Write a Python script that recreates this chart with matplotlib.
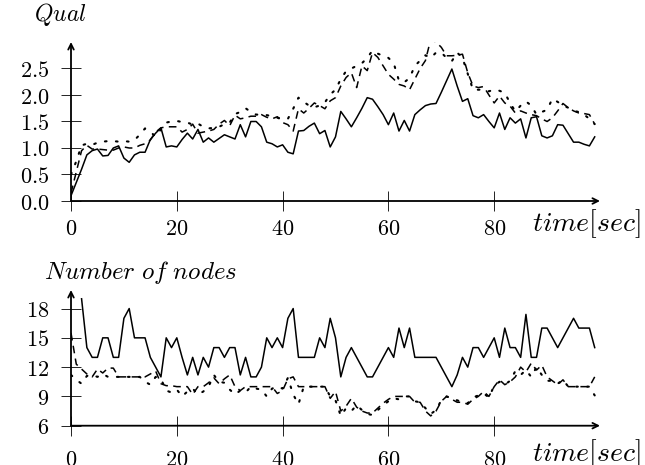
import matplotlib
matplotlib.use("Agg")
import matplotlib.pyplot as plt
from matplotlib.ticker import FuncFormatter

plt.rcParams["mathtext.fontset"] = "cm"
plt.rcParams["font.family"] = "DejaVu Serif"

# time axis (seconds)
time = list(range(100))

# Qual panel
qual_solid = [0.10, 0.35, 0.60, 0.87, 0.95, 0.98, 0.85, 0.86, 1.00, 1.04,
              0.81, 0.73, 0.87, 0.92, 0.92, 1.16, 1.28, 1.38, 1.02, 1.04,
              1.02, 1.16, 1.28, 1.17, 1.35, 1.11, 1.19, 1.11, 1.18, 1.25,
              1.21, 1.17, 1.44, 1.21, 1.50, 1.50, 1.40, 1.11, 1.08, 1.02,
              1.06, 0.92, 0.89, 1.32, 1.33, 1.41, 1.47, 1.27, 1.33, 1.02,
              1.21, 1.69, 1.55, 1.40, 1.57, 1.75, 1.95, 1.92, 1.78, 1.63,
              1.44, 1.66, 1.32, 1.52, 1.32, 1.63, 1.72, 1.80, 1.83, 1.84,
              2.05, 2.27, 2.49, 2.17, 1.88, 1.93, 1.61, 1.57, 1.63, 1.50,
              1.38, 1.66, 1.35, 1.57, 1.47, 1.55, 1.19, 1.57, 1.59, 1.23,
              1.19, 1.23, 1.44, 1.43, 1.27, 1.11, 1.11, 1.07, 1.04, 1.21]
qual_dashed = [0.15, 0.55, 0.95, 1.05, 0.98, 0.98, 0.97, 0.96, 0.96, 1.00,
               1.02, 1.00, 1.00, 1.05, 1.08, 1.15, 1.30, 1.38, 1.40, 1.40,
               1.40, 1.30, 1.35, 1.45, 1.28, 1.30, 1.32, 1.35, 1.45, 1.52,
               1.42, 1.62, 1.55, 1.57, 1.60, 1.60, 1.63, 1.58, 1.55, 1.59,
               1.48, 1.44, 1.32, 1.74, 1.66, 1.75, 1.85, 1.80, 1.74, 1.89,
               1.95, 2.17, 2.33, 2.42, 2.14, 2.55, 2.46, 2.80, 2.71, 2.55,
               2.39, 2.30, 2.20, 2.17, 2.10, 2.30, 2.50, 2.65, 3.05, 3.00,
               2.90, 2.74, 2.74, 2.75, 2.77, 2.42, 2.17, 2.14, 2.16, 2.00,
               1.85, 1.98, 1.85, 1.79, 1.66, 1.70, 1.66, 1.63, 1.61, 1.55,
               1.50, 1.57, 1.70, 1.84, 1.76, 1.70, 1.66, 1.65, 1.63, 1.45]
qual_dotted = [0.50, 0.75, 1.05, 1.08, 1.06, 1.10, 1.12, 1.13, 1.13, 1.12,
               1.13, 1.12, 1.15, 1.25, 1.37, 1.30, 1.22, 1.35, 1.48, 1.50,
               1.51, 1.49, 1.48, 1.44, 1.46, 1.40, 1.37, 1.38, 1.40, 1.45,
               1.48, 1.64, 1.68, 1.75, 1.68, 1.63, 1.63, 1.62, 1.60, 1.57,
               1.56, 1.55, 1.74, 1.95, 1.87, 1.80, 1.77, 1.80, 1.86, 2.01,
               2.10, 2.30, 2.45, 2.50, 2.55, 2.60, 2.70, 2.84, 2.78, 2.74,
               2.70, 2.60, 2.27, 2.24, 2.32, 2.55, 2.65, 2.75, 2.70, 2.80,
               2.80, 2.70, 2.64, 2.80, 2.70, 2.40, 2.10, 2.10, 2.10, 2.07,
               2.10, 2.08, 2.04, 1.85, 1.69, 1.80, 1.88, 1.80, 1.63, 1.68,
               1.72, 1.93, 1.87, 1.80, 1.76, 1.70, 1.68, 1.63, 1.55, 1.45]

# Number of nodes panel
nan = float("nan")
nodes_solid = [nan, nan, 19, 14, 13, 13, 15, 15, 13, 13,
               17, 18, 15, 15, 15, 13, 12, 11, 15, 14,
               15, 13, 11.2, 13, 11.2, 13, 12, 14, 14, 13,
               14, 14, 11.2, 13, 11, 11, 12, 15, 14, 15,
               14, 17, 18, 13, 13, 13, 13, 15, 14, 17,
               15, 11, 13, 14, 13, 12, 11, 11, 12, 13,
               14, 13, 16, 14, 16, 13, 13, 13, 13, 13,
               12, 11, 10, 11.2, 13, 12, 14, 14, 13, 14,
               15, 13, 16, 14, 14, 13, 17.4, 13, 13, 16,
               16, 15, 14, 15, 16, 17, 16, 16, 16, 14]
nodes_dashed = [15.5, 12.3, 11.8, 11.3, 11.0, 11.8, 11.4, 11.9, 11.9, 11.0,
                11.0, 11.0, 11.0, 11.0, 11.0, 11.3, 11.6, 10.3, 10.1, 10.1,
                10.0, 10.0, 10.0, 9.2, 10.0, 10.0, 10.4, 10.9, 10.3, 10.8,
                11.2, 10.0, 9.6, 10.0, 10.0, 10.0, 10.0, 10.0, 10.0, 9.3,
                9.6, 10.8, 11.0, 10.0, 10.0, 10.0, 10.0, 10.0, 10.0, 8.8,
                9.5, 7.5, 8.0, 8.8, 7.9, 7.5, 7.3, 7.3, 7.8, 8.3,
                8.7, 9.0, 9.0, 9.0, 9.0, 8.4, 8.4, 7.5, 7.0, 7.5,
                8.5, 9.0, 8.7, 8.4, 8.4, 8.2, 8.7, 9.0, 9.5, 9.0,
                10.0, 10.7, 10.2, 10.5, 11.0, 12.0, 11.5, 12.4, 11.7, 12.2,
                11.0, 10.6, 10.2, 10.7, 10.0, 10.0, 10.0, 10.0, 10.0, 11.0]
nodes_dotted = [11.2, 10.7, 10.3, 11.1, 11.2, 11.0, 11.3, 11.0, 11.0, 11.0,
                11.0, 11.0, 11.0, 11.0, 10.5, 10.2, 11.0, 10.8, 9.6, 9.4,
                9.7, 9.0, 9.5, 9.8, 9.2, 9.5, 10.0, 11.2, 10.5, 10.4,
                9.7, 9.2, 9.6, 9.4, 10.0, 9.8, 9.7, 9.0, 9.8, 10.0,
                9.8, 10.9, 9.2, 8.2, 10.0, 10.0, 10.0, 10.0, 10.0, 9.0,
                8.6, 7.0, 7.8, 7.5, 8.1, 7.6, 7.2, 7.1, 7.6, 8.1,
                8.5, 8.8, 8.7, 9.0, 9.0, 8.5, 8.4, 7.8, 7.2, 7.6,
                8.6, 9.0, 8.8, 8.6, 8.4, 8.3, 8.9, 9.1, 9.3, 8.9,
                10.1, 10.5, 10.2, 10.6, 11.6, 11.2, 11.7, 11.0, 12.0, 11.2,
                10.6, 10.6, 10.3, 10.7, 10.0, 10.0, 10.0, 10.0, 10.0, 9.1]

x_ticks = [0, 20, 40, 60, 80]
qual_ticks = [0.0, 0.5, 1.0, 1.5, 2.0, 2.5]
nodes_ticks = [6, 9, 12, 15, 18]

W, H = 645, 465
fig = plt.figure(figsize=(W / 100, H / 100), dpi=100)


def px_axes(left, right, top, bottom):
    return fig.add_axes([left / W, 1 - bottom / H, (right - left) / W, (bottom - top) / H])


def style_axes(ax, ylim, yticks, yfmt, xpad):
    ax.set_xlim(0, 100)
    ax.set_ylim(*ylim)
    for s in ax.spines.values():
        s.set_visible(False)
    ax.annotate("", xy=(1, 0), xytext=(0, 0), xycoords="axes fraction",
                arrowprops=dict(arrowstyle="->", lw=1.3, color="black",
                                shrinkA=0, shrinkB=0))
    ax.annotate("", xy=(0, 1), xytext=(0, 0), xycoords="axes fraction",
                arrowprops=dict(arrowstyle="->", lw=1.3, color="black",
                                shrinkA=0, shrinkB=0))
    ax.set_xticks(x_ticks)
    ax.set_yticks(yticks)
    ax.xaxis.set_major_formatter(FuncFormatter(lambda v, p: f"${v:.0f}$"))
    ax.yaxis.set_major_formatter(FuncFormatter(lambda v, p: yfmt.format(v)))
    ax.tick_params(axis="x", direction="inout", length=15, width=0.6,
                   labelsize=16, pad=xpad)
    ax.tick_params(axis="y", direction="inout", length=15, width=0.6,
                   labelsize=16, pad=8)


def draw(ax, solid, dashed, dotted):
    ax.plot(time, solid, color="black", lw=1.1)
    ax.plot(time, dashed, color="black", lw=1.1, dashes=(5, 3.5))
    ax.plot(time, dotted, color="black", lw=1.5, dashes=(0.8, 4.5),
            dash_capstyle="round")


ax1 = px_axes(71, 600, 42, 201)
draw(ax1, qual_solid, qual_dashed, qual_dotted)
style_axes(ax1, (0, 3.0), qual_ticks, "${:.1f}$", 4.5)

ax2 = px_axes(71, 600, 290, 425.7)
draw(ax2, nodes_solid, nodes_dashed, nodes_dotted)
style_axes(ax2, (6, 19.9), nodes_ticks, "${:.0f}$", 9)

fig.text(60 / W, 1 - 15 / H, r"$Qual$", fontsize=17, ha="center", va="center")
fig.text(586 / W, 1 - 224 / H, r"$time[sec]$", fontsize=20, ha="center", va="center")
fig.text(140 / W, 1 - 272 / H, r"$Number\ of\ nodes$", fontsize=18, ha="center", va="center")
fig.text(586 / W, 1 - 454 / H, r"$time[sec]$", fontsize=20, ha="center", va="center")

fig.savefig("out.png", dpi=100)
